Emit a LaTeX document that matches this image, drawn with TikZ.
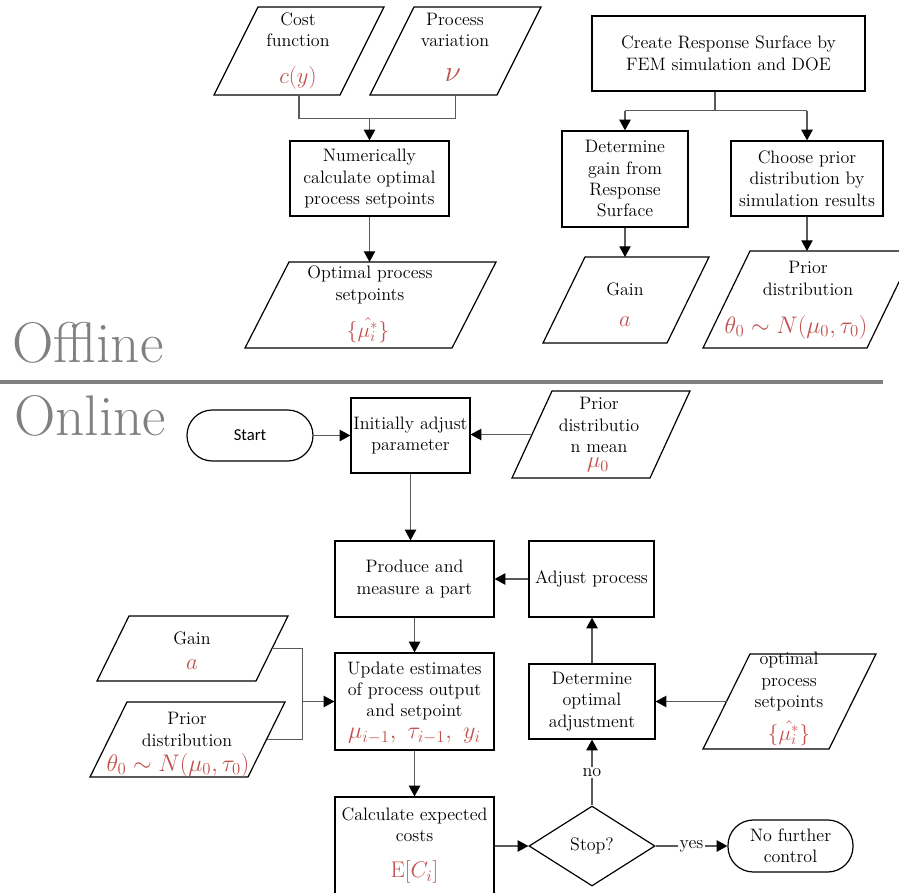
\RequirePackage{fix-cm}
\documentclass[tikz,border=0pt]{standalone}
\usepackage{fontspec}
\newfontfamily\startfont{Carlito}
\usetikzlibrary{arrows.meta,calc,shapes.geometric}

\definecolor{mred}{HTML}{C0504D}
\definecolor{wiregray}{HTML}{5A5A5A}
\definecolor{taggray}{HTML}{808080}

\newcommand\txtfont{\fontsize{13.5pt}{16pt}\selectfont}
\newcommand\mathsz[1]{\fontsize{#1}{#1}\selectfont}

\tikzset{
  sz/.style 2 args={minimum width=#1*0.75pt, minimum height=#2*0.75pt},
  box/.style={draw=black, line width=0.9pt, inner sep=0pt, align=center, font=\txtfont},
  term/.style={box, rounded corners=19pt},
  txt/.style={inner sep=0pt, align=center, font=\txtfont},
  mth/.style={inner sep=0pt, text=mred, font=\mathsz{#1}},
  wire/.style={draw=wiregray, line width=0.8pt},
  arr/.style={wire, -{Triangle[length=8pt,width=8.5pt,color=black]}},
  paraline/.style={draw=black, line width=0.9pt, line join=miter},
  edgetxt/.style={fill=white, inner sep=1pt, font=\txtfont},
  dia/.style={diamond, draw=black, line width=0.9pt, inner sep=0pt,
    minimum width=94.5pt, minimum height=60pt, font=\txtfont},
  phase/.style={anchor=base west, inner sep=0pt, text=taggray,
    font=\fontsize{43pt}{50pt}\selectfont},
}

% data parallelogram: name, bottom-left x, bottom y, width, top y, slant
\newcommand\iobox[6]{%
  \coordinate (#1-bl) at (#2,#3);
  \coordinate (#1-br) at (#2+#4,#3);
  \coordinate (#1-tr) at (#2+#4+#6,#5);
  \coordinate (#1-tl) at (#2+#6,#5);
  \draw[paraline] (#1-bl) -- (#1-br) -- (#1-tr) -- (#1-tl) -- cycle;
  \coordinate (#1-c) at ($(#1-bl)!0.5!(#1-tr)$);
  \coordinate (#1-w) at ($(#1-bl)!0.5!(#1-tl)$);
  \coordinate (#1-e) at ($(#1-br)!0.5!(#1-tr)$);
  \coordinate (#1-n) at (#1-c |- #1-tl);
  \coordinate (#1-s) at (#1-c |- #1-bl);
}

\begin{document}
\begin{tikzpicture}[x=0.75pt,y=-0.75pt]
\useasboundingbox (0,0) rectangle (899,892);

% ---------------- offline part ----------------
\iobox{cost}{214}{95}{126}{7}{44}
\node[txt] (costT) at (298,30) {Cost\\function};
\node[mth=17pt] (costM) at (298,78) {$c(y)$};

\iobox{vari}{370}{95}{127}{7}{44}
\node[txt] (variT) at (455,30) {Process\\variation};
\node[mth=22pt] (variM) at (453,75) {$\nu$};

\node[box, sz={159}{75}] (numc) at (369.5,178.5)
  {Numerically\\calculate optimal\\process setpoints};

\iobox{optp}{245}{348}{207}{262}{44}
\node[txt] (optpT) at (370,285) {Optimal process\\setpoints};
\node[mth=16pt] (optpM) at (368,330) {$\{\hat{\mu_i^*}\}$};

\path (numc.north) ++(0,-22) coordinate (j1);
\draw[wire] (cost-s) |- (vari-s |- j1) -- (vari-s);
\draw[arr] (j1) -- (numc.north);
\draw[arr] (numc.south) -- (numc.south |- optp-n);

\node[box, sz={273}{75}] (rsurf) at (728.5,53.5)
  {Create Response Surface by\\FEM simulation and DOE};
\node[box, sz={126}{96}] (dgain) at (625,179)
  {Determine\\gain from\\Response\\Surface};
\node[box, sz={152}{75}] (cprior) at (807,178.5)
  {Choose prior\\distribution by\\simulation results};

\path (rsurf.south) ++(-13.5,0) coordinate (rsOut);
\path (rsOut) ++(0,19) coordinate (rsSplit);
\draw[wire] (rsOut) -- (rsSplit);
\draw[wire] (dgain.north |- rsSplit) -- (cprior.north |- rsSplit);
\draw[arr] (dgain.north |- rsSplit) -- (dgain.north);
\draw[arr] (cprior.north |- rsSplit) -- (cprior.north);

\iobox{gout}{543}{343}{124}{257}{42}
\node[txt] (goutT) at (625,289) {Gain};
\node[mth=17pt] (goutM) at (625,322) {$a$};

\iobox{pout}{703}{348}{164}{251}{47}
\node[txt] (poutT) at (808,278.5) {Prior\\distribution};
\node[mth=18pt] (poutM) at (796,327) {$\theta_0\sim N(\mu_0,\tau_0)$};

\draw[arr] (dgain.south) -- (dgain.south |- gout-n);
\draw[arr] (cprior.south) -- (cprior.south |- pout-n);

% ---------------- phase labels ----------------
\node[phase] (offl) at (12,362) {Offline};
\draw[draw=taggray, line width=3pt] (0,382) -- (883,382);
\node[phase] (onl) at (14,435) {Online};

% ---------------- online part ----------------
\node[term, sz={126}{51}, font=\startfont\fontsize{12.5pt}{15pt}\selectfont] (start) at (250,435.5) {Start};
\node[box, sz={119}{75}] (init) at (410.5,435.5) {Initially adjust\\parameter};
\draw[arr] (start.east) -- (init.west);

\iobox{mean}{512}{478}{138}{391}{40}
\node[txt] (meanT) at (599,425) {Prior\\distributio\\n mean};
\node[mth=17pt] (meanM) at (598,465) {$\mu_0$};
\draw[arr] (mean-w) -- (mean-w -| init.east);

\node[box, sz={159}{76}] (prod) at (414.5,579) {Produce and\\measure a part};
\node[box, sz={125}{76}] (adj) at (591.5,579) {Adjust process};
\draw[arr] (init.south) -- (init.south |- prod.north);
\draw[arr] (adj.west) -- (prod.east);

\node[box, sz={159}{97}] (upd) at (414.5,701.5) {};
\node[txt] (updT) at (414.5,691) {Update estimates\\of process output\\and setpoint};
\node[mth=18pt] (updM) at (414.5,736) {$\mu_{i-1},\ \tau_{i-1},\ y_i$};
\draw[arr] (prod.south) -- (upd.north);

\node[box, sz={126}{75}] (dopt) at (592,701.5) {Determine\\optimal\\adjustment};
\draw[arr] (dopt.north) -- (dopt.north |- adj.south);

\iobox{sets}{703}{749}{126}{654}{47}
\node[txt] (setsT) at (789,681.5) {optimal\\process\\setpoints};
\node[mth=16pt] (setsM) at (789,733) {$\{\hat{\mu_i^*}\}$};
\draw[arr] (sets-w) -- (sets-w -| dopt.east);

\iobox{gin}{97}{681}{159}{616}{32}
\node[txt] (ginT) at (192,638) {Gain};
\node[mth=17pt] (ginM) at (192,665) {$a$};

\iobox{pin}{90}{777}{158}{702}{37}
\node[txt] (pinT) at (187,729.5) {Prior\\distribution};
\node[mth=18pt] (pinM) at (178,765) {$\theta_0\sim N(\mu_0,\tau_0)$};

\path (upd.west) ++(-32,0) coordinate (gj);
\draw[wire] (gin-e) -| (gj);
\draw[wire] (pin-e) -| (gj);
\draw[arr] (gj) -- (upd.west);

\node[box, sz={159}{108}] (calc) at (414.5,851) {};
\node[txt] (calcT) at (414.5,824.5) {Calculate expected\\costs};
\node[mth=17pt] (calcM) at (414.5,872) {$\mathrm{E}[C_i]$};
\draw[arr] (upd.south) -- (calc.north);

\node[dia] (stop) at (592,846) {Stop?};
\node[term, sz={125}{52}] (fin) at (790.5,846) {No further\\control};

\draw[arr] (stop.west -| calc.east) -- (stop.west);
\draw[arr] (stop.north) -- node[edgetxt] (nolab) {no} (dopt.south);
\draw[arr] (stop.east) -- node[edgetxt] (yeslab) {yes} (fin.west);
\end{tikzpicture}
\end{document}
